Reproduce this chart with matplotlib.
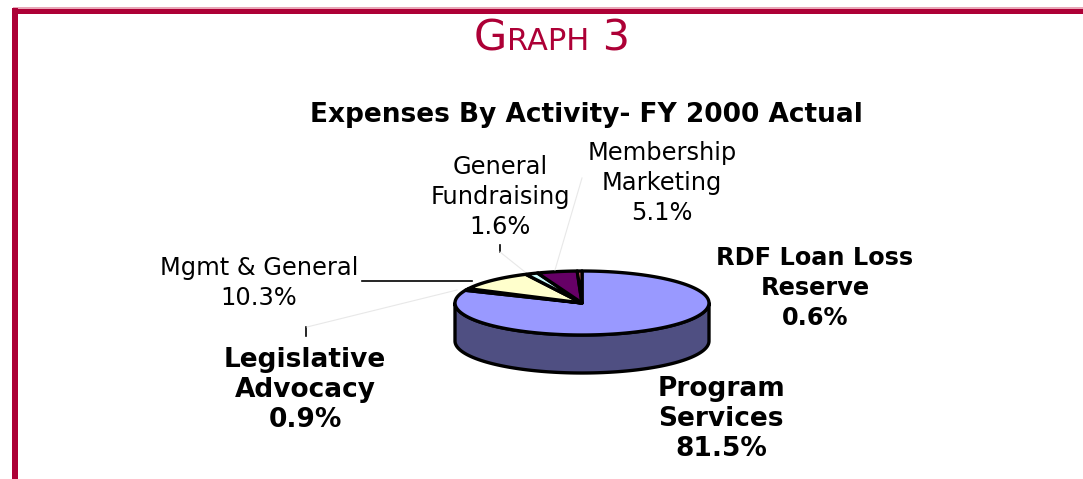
import numpy as np
import matplotlib
matplotlib.use("Agg")
import matplotlib.pyplot as plt
from matplotlib.patches import Polygon, Rectangle
from matplotlib.offsetbox import TextArea, HPacker, AnnotationBbox

# =========================
# Datos
# =========================

labels = ["Program\nServices", "Legislative\nAdvocacy", "Mgmt & General",
          "General\nFundraising", "Membership\nMarketing", "RDF Loan Loss\nReserve"]
values = [81.5, 0.9, 10.3, 1.6, 5.1, 0.6]
colors = ["#9999FF", "#993366", "#FFFFCC", "#CCFFFF", "#660066", "#FF8080"]

title = "Expenses By Activity- FY 2000 Actual"
crimson = "#AD0036"

# =========================
# Figura (coordenadas en pixeles, y hacia abajo)
# =========================

W, H = 1083, 479
fig = plt.figure(figsize=(W / 100, H / 100), dpi=100)
ax = fig.add_axes([0, 0, 1, 1])
ax.set_xlim(0, W)
ax.set_ylim(H, 0)
ax.axis("off")

# marco
ax.add_patch(Rectangle((13, 8), W - 13, 6, color=crimson, lw=0))
ax.add_patch(Rectangle((13, 7), W - 13, 1.5, color="#E8A8B8", lw=0))
ax.add_patch(Rectangle((12, 8), 6, H - 8, color=crimson, lw=0))

# titulo "GRAPH 3" en versalitas
fp = dict(color=crimson, family="DejaVu Sans")
parts = [TextArea("G", textprops=dict(size=31, **fp)),
         TextArea("RAPH", textprops=dict(size=22, **fp)),
         TextArea(" 3", textprops=dict(size=31, **fp))]
box = HPacker(children=parts, align="baseline", pad=0, sep=0)
ab = AnnotationBbox(box, (552, 38), xycoords="data", frameon=False,
                    box_alignment=(0.5, 0.5))
ax.add_artist(ab)

ax.text(586, 115, title, ha="center", va="center", fontsize=19,
        fontweight="bold", family="DejaVu Sans")

# =========================
# Pie 3D
# =========================

cx, cy = 582, 303
rx, ry = 127, 32
depth = 38


def pt(theta, dy=0):
    # theta en grados, sentido horario desde arriba
    th = np.radians(theta)
    return cx + rx * np.sin(th), cy - ry * np.cos(th) + dy


fracs = np.array(values) / np.sum(values)
edges = np.concatenate([[0], np.cumsum(fracs) * 360])

# pared frontal (solo la mitad delantera es visible)
front = np.linspace(90, 270, 120)
top_arc = [pt(t) for t in front]
bot_arc = [pt(t, depth) for t in front[::-1]]
ax.add_patch(Polygon(top_arc + bot_arc, closed=True, facecolor="#4F4F82",
                     edgecolor="black", lw=2.4, joinstyle="round"))

# cara superior
for i in range(len(values)):
    a0, a1 = edges[i], edges[i + 1]
    n = max(3, int((a1 - a0) / 2))
    arc = [pt(t) for t in np.linspace(a0, a1, n)]
    ax.add_patch(Polygon([(cx, cy)] + arc, closed=True, facecolor=colors[i],
                         edgecolor="black", lw=2.4, joinstyle="round"))

# =========================
# Etiquetas
# =========================

label_pos = [(721, 419), (305, 390), (259, 283), (500, 197), (662, 183), (815, 288)]
label_size = [19, 19, 17.4, 17.4, 17.4, 17.3]
label_bold = [True, True, False, False, False, True]
label_spacing = [1.2, 1.2, 1.3, 1.3, 1.3, 1.33]
for i in range(len(values)):
    txt = f"{labels[i]}\n{values[i]:.1f}%"
    x, y = label_pos[i]
    ax.text(x, y, txt, ha="center", va="center", family="DejaVu Sans",
            fontsize=label_size[i],
            fontweight="bold" if label_bold[i] else "normal",
            linespacing=label_spacing[i])

# lineas guia
ax.plot([362, 472], [281, 281], color="black", lw=1.2)
ax.plot([306, 306], [327, 336], color="black", lw=1.2)
ax.plot([500, 500], [245, 252], color="black", lw=1.2)
ax.plot([307, 457], [327, 290], color="#E8E8E8", lw=0.8)
ax.plot([500, 525], [252, 272], color="#E8E8E8", lw=0.8)
ax.plot([582, 555], [178, 270], color="#E8E8E8", lw=0.8)

fig.savefig("out.png", dpi=100)
